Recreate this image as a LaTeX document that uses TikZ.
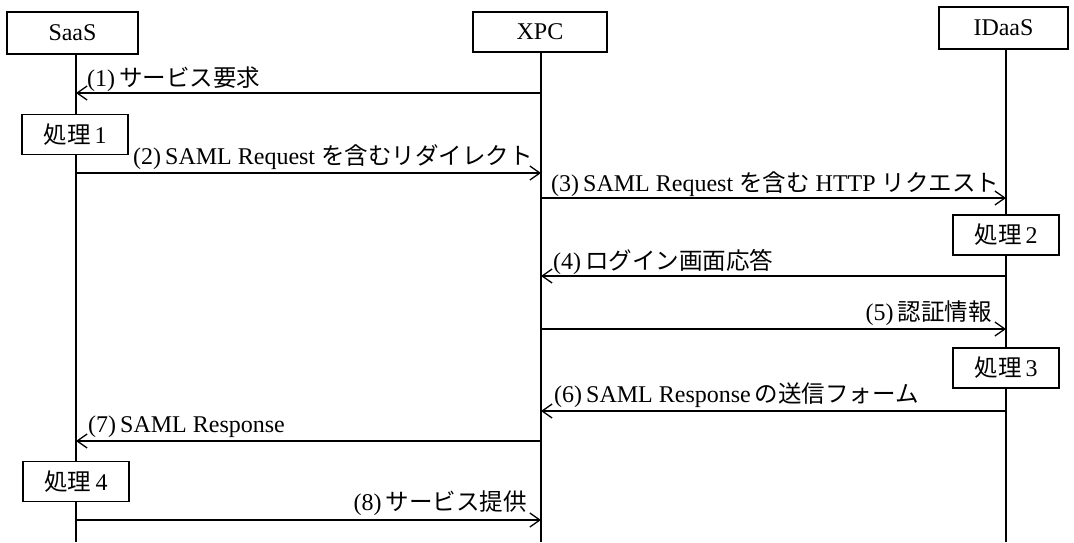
\documentclass[tikz,border=0pt]{standalone}
\usepackage{fontspec}
\setmainfont{Liberation Serif}
\newfontfamily\jp{Noto Sans CJK JP}[Scale=0.98]
\usetikzlibrary{arrows.meta}
\newcommand\J[1]{{\jp #1}}
\begin{document}
\begin{tikzpicture}[x=1pt,y=-1pt,
  every node/.style={font=\fontsize{24}{28}\selectfont, inner sep=0pt},
  actor/.style={draw, line width=1.4pt, fill=white},
  proc/.style={draw, line width=1.4pt, fill=white, minimum width=106pt, minimum height=40pt},
  life/.style={line width=1.3pt},
  msg/.style={line width=1.3pt, -{Straight Barb[length=10pt,width=14pt,line width=1.3pt]}},
  lbl/.style={anchor=base west},
  lblr/.style={anchor=base east}]
\useasboundingbox (0,0) rectangle (1074,542);
\fill[white] (0,0) rectangle (1074,542);

% lifeline ends
\coordinate (saasBot) at (76,542);
\coordinate (xpcBot) at (541,542);
\coordinate (idBot) at (1006,542);

% actors
\node[actor, minimum width=131pt, minimum height=42pt] (saas) at (72.5,33) {SaaS};
\node[actor, minimum width=134pt, minimum height=40pt] (xpc) at (540,32) {XPC};
\node[actor, minimum width=129pt, minimum height=42pt] (idaas) at (1003.5,28) {IDaaS};

% lifelines
\draw[life] (saas.south -| saasBot) -- (saasBot);
\draw[life] (xpc.south -| xpcBot) -- (xpcBot);
\draw[life] (idaas.south -| idBot) -- (idBot);

% process boxes
\node[proc] (p1) at (75,134.5) {\J{処理}\,1};
\node[proc] (p2) at (1006,235) {\J{処理}\,2};
\node[proc] (p3) at (1006,368) {\J{処理}\,3};
\node[proc] (p4) at (76,481.5) {\J{処理}\,4};

% messages
\draw[msg] (xpcBot |- 0,93) -- (saasBot |- 0,93);
\node[lbl] (l1) at (87,86) {(1)\,\J{サービス要求}};

\draw[msg] (saasBot |- 0,173) -- (xpcBot |- 0,173);
\node[lbl] (l2) at (133,164) {(2)\,SAML Request \J{を含むリダイレクト}};

\draw[msg] (xpcBot |- 0,198) -- (idBot |- 0,198);
\node[lbl] (l3) at (551,191) {(3)\,SAML Request \J{を含む} HTTP \J{リクエスト}};

\draw[msg] (idBot |- 0,276) -- (xpcBot |- 0,276);
\node[lbl] (l4) at (553,269) {(4)\,\J{ログイン画面応答}};

\draw[msg] (xpcBot |- 0,329) -- (idBot |- 0,329);
\node[lblr] (l5) at (992,320) {(5)\,\J{認証情報}};

\draw[msg] (idBot |- 0,411) -- (xpcBot |- 0,411);
\node[lbl] (l6) at (554,402) {(6)\,SAML Response\,\J{の送信フォーム}};

\draw[msg] (xpcBot |- 0,441) -- (saasBot |- 0,441);
\node[lbl] (l7) at (88,432) {(7)\,SAML Response};

\draw[msg] (saasBot |- 0,520) -- (xpcBot |- 0,520);
\node[lblr] (l8) at (527,510) {(8)\,\J{サービス提供}};
\end{tikzpicture}
\end{document}
